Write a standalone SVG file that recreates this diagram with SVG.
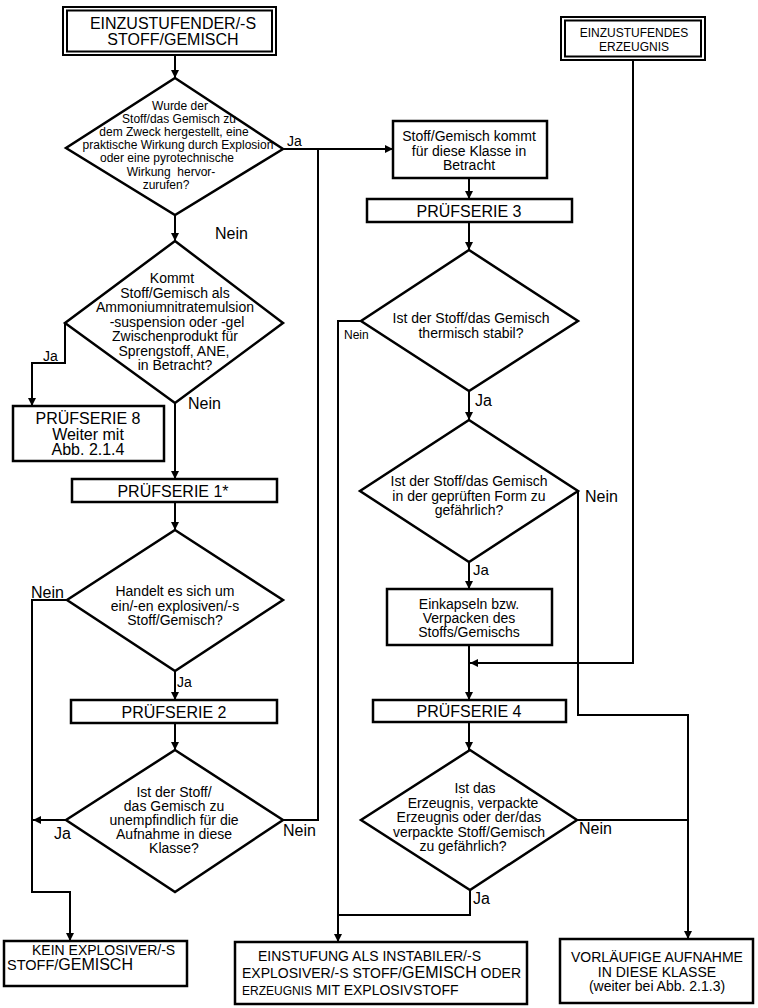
<svg xmlns="http://www.w3.org/2000/svg" width="758" height="1008" viewBox="0 0 758 1008">
<defs>
<marker id="arr" viewBox="0 0 10 10" refX="10" refY="5" markerWidth="9" markerHeight="8" markerUnits="userSpaceOnUse" orient="auto">
<path d="M0,0 L10,5 L0,10 z" fill="#000"/>
</marker>
</defs>
<style>
text{font-family:"Liberation Sans",Arial,sans-serif;fill:#000}
.b{fill:#fff;stroke:#000;stroke-width:2.5}
.d{fill:#fff;stroke:#000;stroke-width:2.5;stroke-linejoin:miter}
.c{fill:none;stroke:#000;stroke-width:2}
.a{marker-end:url(#arr)}
.m{text-anchor:middle}
.t12{font-size:12px}
.t14{font-size:14px}
.t15{font-size:15px}
.t16{font-size:16px}
</style>
<rect x="0" y="0" width="758" height="1008" fill="#fff"/>

<g id="connectors">
<path class="c a" d="M175,55 V78"/>
<path class="c a" d="M283,149 H393"/>
<path class="c" d="M283,820 H318 V149"/>
<path class="c a" d="M175,215 V241"/>
<path class="c a" d="M65,323 V363 H32 V406"/>
<path class="c a" d="M175,403 V479"/>
<path class="c a" d="M175,502 V530"/>
<path class="c a" d="M67,600 H32 V892 H70 V941"/>
<path class="c a" d="M175,671 V700"/>
<path class="c a" d="M175,723 V750"/>
<path class="c a" d="M66,820 H33"/>
<path class="c a" d="M469,178 V199"/>
<path class="c a" d="M469,222 V250"/>
<path class="c a" d="M361,321 H338 V942"/>
<path class="c a" d="M469,391 V420"/>
<path class="c a" d="M469,562 V589"/>
<path class="c a" d="M469,645 V700"/>
<path class="c a" d="M633,60 V663 H470"/>
<path class="c a" d="M469,722 V750"/>
<path class="c" d="M470,890 V915 H338"/>
<path class="c a" d="M578,491 V715 H688 V939"/>
<path class="c" d="M577,820 H688"/>
<text class="t14" x="287" y="146">Ja</text>
<text class="t16" x="215" y="239">Nein</text>
<text class="t14" x="43" y="361">Ja</text>
<text class="t16" x="188" y="409">Nein</text>
<text class="t16" x="31" y="598">Nein</text>
<text class="t14" x="177" y="687">Ja</text>
<text class="t16" x="54" y="839">Ja</text>
<text class="t16" x="283" y="836">Nein</text>
<text class="t12" x="344" y="339">Nein</text>
<text class="t16" x="475" y="406">Ja</text>
<text class="t16" x="585" y="502">Nein</text>
<text class="t15" x="473" y="575">Ja</text>
<text class="t16" x="579" y="834">Nein</text>
<text class="t16" x="473" y="904">Ja</text>
</g>

<g id="start-substance">
<rect class="b" x="63" y="7" width="213" height="48" style="stroke-width:2"/>
<rect class="b" x="67" y="10.5" width="205" height="41" style="stroke-width:2"/>
<text class="t16 m" x="173" y="29">EINZUSTUFENDER/-S</text>
<text class="t16 m" x="173" y="45">STOFF/GEMISCH</text>
</g>

<g id="start-article">
<rect class="b" x="561" y="17" width="144" height="43" style="stroke-width:2"/>
<rect class="b" x="565" y="20.5" width="136" height="36" style="stroke-width:2"/>
<text class="t12 m" x="634" y="37">EINZUSTUFENDES</text>
<text class="t12 m" x="634" y="51">ERZEUGNIS</text>
</g>

<g id="q-purpose">
<polygon class="d" points="175,78 283,149 175,215 66,148"/>
<text class="t12 m" x="180" y="110">Wurde der</text>
<text class="t12 m" x="179" y="123">Stoff/das Gemisch zu</text>
<text class="t12 m" x="174" y="136">dem Zweck hergestellt, eine</text>
<text class="t12 m" x="178" y="149">praktische Wirkung durch Explosion</text>
<text class="t12 m" x="167" y="162">oder eine pyrotechnische</text>
<text class="t12 m" x="171" y="175.5" xml:space="preserve">Wirkung  hervor-</text>
<text class="t12 m" x="166" y="189">zurufen?</text>
</g>

<g id="q-ane">
<polygon class="d" points="175,241 283,323 175,403 65,323"/>
<text class="t14 m" x="172" y="283">Kommt</text>
<text class="t14 m" x="175" y="297.5">Stoff/Gemisch als</text>
<text class="t14 m" x="175" y="312">Ammoniumnitratemulsion</text>
<text class="t14 m" x="177" y="326.5">-suspension oder -gel</text>
<text class="t14 m" x="175" y="341">Zwischenprodukt für</text>
<text class="t14 m" x="174" y="355.5">Sprengstoff, ANE,</text>
<text class="t14 m" x="175" y="370">in Betracht?</text>
</g>

<g id="series8">
<rect class="b" x="13" y="406" width="151" height="55"/>
<text class="t16 m" x="88" y="424">PRÜFSERIE 8</text>
<text class="t16 m" x="88" y="439.5">Weiter mit</text>
<text class="t16 m" x="88" y="455">Abb. 2.1.4</text>
</g>

<g id="series1">
<rect class="b" x="72" y="479" width="205" height="23"/>
<text class="t16 m" x="173" y="497">PRÜFSERIE 1*</text>
</g>

<g id="q-explosive">
<polygon class="d" points="175,530 283,600 175,671 67,600"/>
<text class="t14 m" x="175" y="596">Handelt es sich um</text>
<text class="t14 m" x="175" y="610.5">ein/-en explosiven/-s</text>
<text class="t14 m" x="175" y="625">Stoff/Gemisch?</text>
</g>

<g id="series2">
<rect class="b" x="71" y="700" width="206" height="23"/>
<text class="t16 m" x="174" y="718">PRÜFSERIE 2</text>
</g>

<g id="q-insensitive">
<polygon class="d" points="175,750 283,820 175,892 66,820"/>
<text class="t14 m" x="174" y="797">Ist der Stoff/</text>
<text class="t14 m" x="174" y="811">das Gemisch zu</text>
<text class="t14 m" x="174" y="825">unempfindlich für die</text>
<text class="t14 m" x="174" y="839">Aufnahme in diese</text>
<text class="t14 m" x="174" y="853">Klasse?</text>
</g>

<g id="not-explosive">
<rect class="b" x="4" y="941" width="183" height="45"/>
<text class="t14" x="32" y="955">KEIN EXPLOSIVER/-S</text>
<text x="7" y="970"><tspan style="font-size:14.5px">STOFF/</tspan><tspan style="font-size:16px">GEMISCH</tspan></text>
</g>

<g id="candidate">
<rect class="b" x="393" y="121" width="154" height="57"/>
<text class="t14 m" x="469" y="141">Stoff/Gemisch kommt</text>
<text class="t14 m" x="469" y="155.5">für diese Klasse in</text>
<text class="t14 m" x="469" y="170">Betracht</text>
</g>

<g id="series3">
<rect class="b" x="367" y="199" width="205" height="23"/>
<text class="t16 m" x="469" y="217">PRÜFSERIE 3</text>
</g>

<g id="q-thermal">
<polygon class="d" points="469,250 578,321 469,391 361,321"/>
<text class="t14 m" x="471" y="323">Ist der Stoff/das Gemisch</text>
<text class="t14 m" x="471" y="337.5">thermisch stabil?</text>
</g>

<g id="q-dangerous">
<polygon class="d" points="469,420 578,491 469,562 360,491"/>
<text class="t14 m" x="469" y="486">Ist der Stoff/das Gemisch</text>
<text class="t14 m" x="469" y="500.5">in der geprüften Form zu</text>
<text class="t14 m" x="469" y="515">gefährlich?</text>
</g>

<g id="encapsulate">
<rect class="b" x="387" y="589" width="165" height="56"/>
<text class="t14 m" x="469" y="609">Einkapseln bzw.</text>
<text class="t14 m" x="469" y="623">Verpacken des</text>
<text class="t14 m" x="469" y="637">Stoffs/Gemischs</text>
</g>

<g id="series4">
<rect class="b" x="373" y="700" width="193" height="22"/>
<text class="t16 m" x="469" y="717">PRÜFSERIE 4</text>
</g>

<g id="q-article">
<polygon class="d" points="470,750 577,820 470,890 361,820"/>
<text class="t14 m" x="475" y="793">Ist das</text>
<text class="t14 m" x="473" y="807.5">Erzeugnis, verpackte</text>
<text class="t14 m" x="469" y="822">Erzeugnis oder der/das</text>
<text class="t14 m" x="469" y="836.5">verpackte Stoff/Gemisch</text>
<text class="t14 m" x="463" y="851">zu gefährlich?</text>
</g>

<g id="unstable">
<rect class="b" x="235" y="942" width="292" height="62"/>
<text class="t14" x="258" y="961">EINSTUFUNG ALS INSTABILER/-S</text>
<text x="242" y="978"><tspan style="font-size:14px">EXPLOSIVER/-S STOFF/</tspan><tspan style="font-size:16px">GEMISCH</tspan><tspan style="font-size:14px"> ODER</tspan></text>
<text x="242" y="994.5"><tspan style="font-size:12px">ERZEUGNIS</tspan><tspan style="font-size:14px"> MIT EXPLOSIVSTOFF</tspan></text>
</g>

<g id="provisional">
<rect class="b" x="560" y="939" width="193" height="64"/>
<text class="t14 m" x="657" y="962">VORLÄUFIGE AUFNAHME</text>
<text class="t14 m" x="657" y="976.5">IN DIESE KLASSE</text>
<text class="t14 m" x="657" y="991">(weiter bei Abb. 2.1.3)</text>
</g>
</svg>
